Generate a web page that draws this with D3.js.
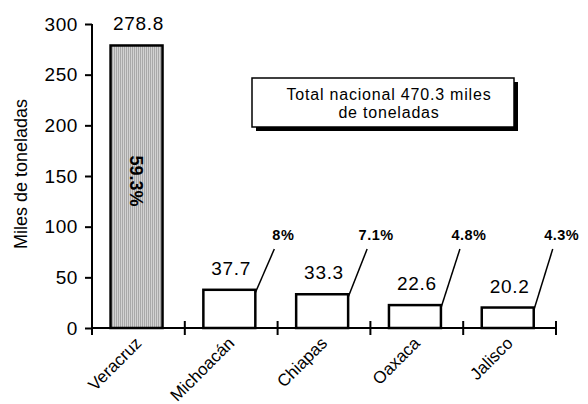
<!DOCTYPE html>
<html>
<head>
<meta charset="utf-8">
<script src="https://cdn.jsdelivr.net/npm/d3@7"></script>
<style>
body { margin: 0; background: #fff; }
text { font-family: "Liberation Sans", Arial, Helvetica, sans-serif; fill: #000; }
</style>
</head>
<body>
<svg id="svg"></svg>
<script>
var width = 588, height = 404;

var states = ["Veracruz", "Michoacán", "Chiapas", "Oaxaca", "Jalisco"];
var values = [278.8, 37.7, 33.3, 22.6, 20.2];
var shares = ["59.3%", "8%", "7.1%", "4.8%", "4.3%"];
var yTicks = [0, 50, 100, 150, 200, 250, 300];
var totalText = ["Total nacional 470.3 miles", "de toneladas"];
var yTitle = "Miles de toneladas";

var data = states.map(function(s, i) { return { state: s, value: values[i], share: shares[i], i: i }; });

var svg = d3.select("#svg")
	.attr("width", width)
	.attr("height", height);

// stripe pattern for the big bar
var pat = svg.append("defs").append("pattern")
	.attr("id", "stripes")
	.attr("patternUnits", "userSpaceOnUse")
	.attr("width", 2)
	.attr("height", 4);
pat.append("rect").attr("width", 2).attr("height", 4).attr("fill", "#d2d2d2");
pat.append("rect").attr("width", 1).attr("height", 4).attr("fill", "#a8a8a8");

var y = d3.scaleLinear()
	.domain([0, 300])
	.range([328, 24]);
var x = d3.scaleBand()
	.domain(states)
	.range([92, 556]);
var bw = x.bandwidth();
var barX = function(d) { return x(d.state) + bw * 0.2; };
var barW = bw * 0.56;

// y axis
var yAxis = d3.axisLeft(y)
	.tickValues(yTicks)
	.tickSize(7)
	.tickPadding(7);
var gy = svg.append("g")
	.attr("transform", "translate(92,0)")
	.call(yAxis);
gy.select(".domain").attr("stroke-width", 2).attr("d", "M0," + y(300) + "V" + y(0));
gy.selectAll(".tick line").attr("stroke-width", 2);
gy.selectAll(".tick text")
	.style("font-size", "19px")
	.style("letter-spacing", "0.6px");

svg.append("text")
	.attr("transform", "translate(27,174) rotate(-90)")
	.attr("text-anchor", "middle")
	.style("font-size", "18px")
	.text(yTitle);

// bars
var bar = svg.selectAll("g.bar")
	.data(data)
	.enter()
	.append("g")
	.attr("class", "bar");
bar.append("rect")
	.attr("x", barX)
	.attr("y", function(d) { return y(d.value); })
	.attr("width", barW)
	.attr("height", function(d) { return y(0) - y(d.value); })
	.attr("fill", function(d) { return d.i === 0 ? "url(#stripes)" : "#fff"; })
	.attr("stroke", "#000")
	.attr("stroke-width", 2.5);

// value labels
bar.append("text")
	.attr("x", function(d) { return x(d.state) + bw / 2; })
	.attr("y", function(d) { return y(d.value) - 15; })
	.attr("text-anchor", "middle")
	.style("font-size", "19px")
	.style("letter-spacing", "0.7px")
	.text(function(d) { return d.value; });

// share labels: first inside bar, rest with callouts
svg.append("text")
	.attr("transform", "translate(" + (x(states[0]) + bw * 0.48) + ",181) rotate(90)")
	.attr("text-anchor", "middle")
	.attr("dy", "0.35em")
	.style("font-size", "18px")
	.style("font-weight", "bold")
	.text(shares[0]);

var callouts = data.slice(1);
svg.selectAll("line.callout")
	.data(callouts)
	.enter()
	.append("line")
	.attr("class", "callout")
	.attr("x1", function(d) { return barX(d) + barW; })
	.attr("y1", function(d) { return y(d.value) + 3; })
	.attr("x2", function(d) { return barX(d) + barW + 19; })
	.attr("y2", 249)
	.attr("stroke", "#000")
	.attr("stroke-width", 1.5);
svg.selectAll("text.share")
	.data(callouts)
	.enter()
	.append("text")
	.attr("class", "share")
	.attr("x", function(d) { return barX(d) + barW + 28; })
	.attr("y", 240)
	.attr("text-anchor", "middle")
	.style("font-size", "14.5px")
	.style("letter-spacing", "0.5px")
	.style("font-weight", "bold")
	.text(function(d) { return d.share; });

// x axis
var x0 = x.range()[0], x1 = x.range()[1];
svg.append("line")
	.attr("x1", x0).attr("x2", x1)
	.attr("y1", y(0)).attr("y2", y(0))
	.attr("stroke", "#000").attr("stroke-width", 2);
var bounds = states.map(function(s) { return x(s); }).concat([x1]);
svg.selectAll("line.xtick")
	.data(bounds)
	.enter()
	.append("line")
	.attr("class", "xtick")
	.attr("x1", function(d) { return d; })
	.attr("x2", function(d) { return d; })
	.attr("y1", y(0) - 7)
	.attr("y2", y(0) + 7)
	.attr("stroke", "#000")
	.attr("stroke-width", 2);
svg.selectAll("text.cat")
	.data(states)
	.enter()
	.append("text")
	.attr("class", "cat")
	.attr("transform", function(d) { return "translate(" + (x(d) + bw / 2 - 3) + ",337) rotate(-45)"; })
	.attr("text-anchor", "end")
	.attr("dy", "0.6em")
	.style("font-size", "17px")
	.text(function(d) { return d; });

// total box with shadow
var box = svg.append("g");
box.append("rect")
	.attr("x", 256).attr("y", 82).attr("width", 262).attr("height", 49)
	.attr("fill", "#000");
box.append("rect")
	.attr("x", 252).attr("y", 78).attr("width", 262).attr("height", 49)
	.attr("fill", "#fff").attr("stroke", "#000").attr("stroke-width", 1.5);
box.selectAll("text")
	.data(totalText)
	.enter()
	.append("text")
	.attr("x", 389)
	.attr("y", function(d, i) { return 100 + i * 18; })
	.attr("text-anchor", "middle")
	.style("font-size", "16px")
	.style("letter-spacing", "0.8px")
	.text(function(d) { return d; });
</script>
</body>
</html>
